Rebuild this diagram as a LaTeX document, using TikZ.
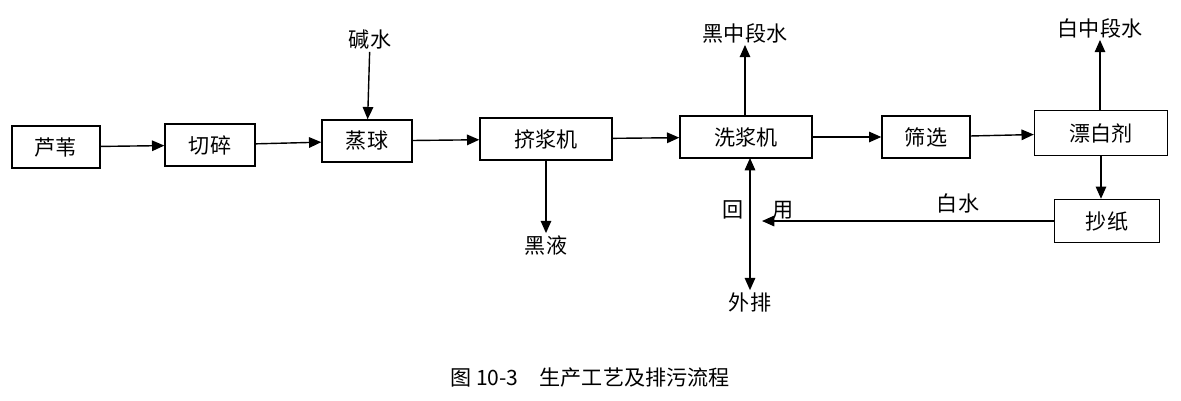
\documentclass[tikz,border=0pt]{standalone}
\usepackage{fontspec}
\setmainfont{Noto Sans CJK SC}
\usetikzlibrary{arrows.meta}
\begin{document}
\begin{tikzpicture}[x=0.02cm,y=-0.02cm,
  bx/.style={draw,line width=0.8pt,minimum height=0.84cm,font=\large,inner sep=0pt},
  lb/.style={font=\large,inner sep=1pt},
  ar/.style={draw,line width=0.8pt,-{Triangle[length=7pt,width=6pt]}}]
\useasboundingbox (0,0) rectangle (1181,400);
\node[bx,minimum width=1.76cm] (a) at (56,147) {芦苇};
\node[bx,minimum width=1.8cm] (b) at (210,145) {切碎};
\node[bx,minimum width=1.8cm] (c) at (367,141) {蒸球};
\node[bx,minimum width=2.64cm] (d) at (546,139) {挤浆机};
\node[bx,minimum width=2.64cm] (e) at (746,137) {洗浆机};
\node[bx,minimum width=1.76cm] (f) at (926,137) {筛选};
\node[bx,minimum width=2.66cm,minimum height=0.9cm] (g) at (1101,133) {漂白剂};
\node[bx,minimum width=2.1cm,minimum height=0.86cm] (h) at (1107,221) {抄纸};
\node[lb] (jx) at (370,40) {碱水};
\node[lb] (hz) at (745,33) {黑中段水};
\node[lb] (bz) at (1100,28) {白中段水};
\node[lb] (hy) at (546,245) {黑液};
\node[lb] (wp) at (750,302) {外排};
\node[lb] at (733,210) {回};
\node[lb] at (783,210) {用};
\node[lb] at (958,203) {白水};
\coordinate (j) at (750,225);
\draw[ar] (a) -- (b);
\draw[ar] (b) -- (c);
\draw[ar] (c) -- (d);
\draw[ar] (d) -- (e);
\draw[ar] (e) -- (f);
\draw[ar] (f) -- (g);
\draw[ar] (g.south -| 1101,0) -- (h.north -| 1101,0);
\draw[ar] (jx) -- (c);
\draw[ar] (e.north -| hz) -- (hz);
\draw[ar] (g.north -| bz) -- (bz);
\draw[ar] (d) -- (hy);
\draw[ar] (h.west) -- (762,221);
\draw[ar] (750,221) -- (750,158);
\draw[ar] (750,221) -- (wp);
\node[font=\large] (cap) at (590,378) {图 10-3\quad 生产工艺及排污流程};
\end{tikzpicture}
\end{document}
